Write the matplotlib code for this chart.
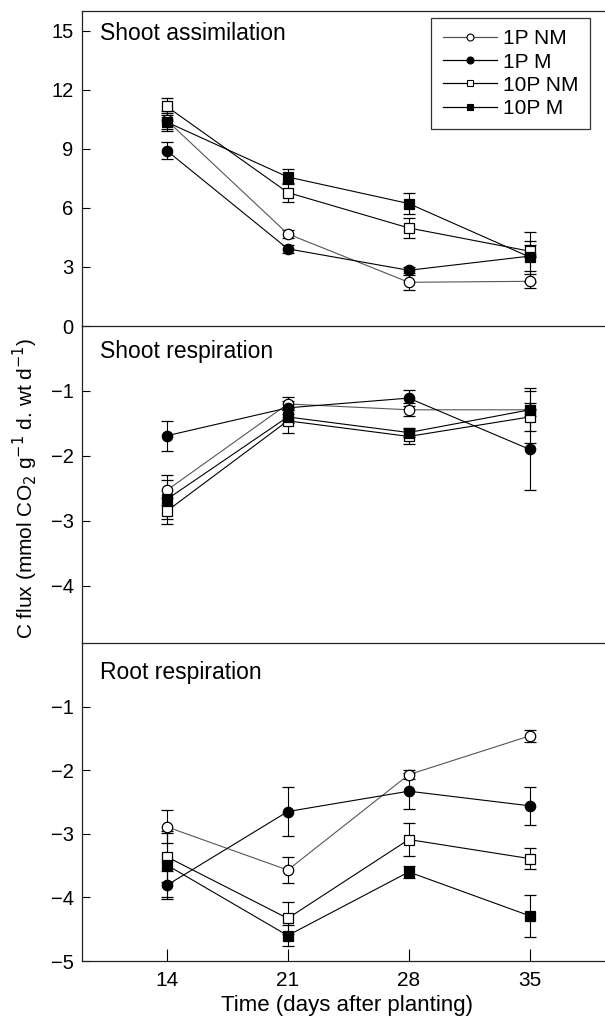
import matplotlib
matplotlib.use("Agg")
import matplotlib.pyplot as plt
from matplotlib.lines import Line2D

# Dias após o plantio
days = [14, 21, 28, 35]
series = ["1P NM", "1P M", "10P NM", "10P M"]

# Shoot assimilation (média e erro)
assim_mean = {
    "1P NM": [10.45, 4.68, 2.22, 2.27],
    "1P M": [8.91, 3.92, 2.83, 3.55],
    "10P NM": [11.15, 6.78, 4.98, 3.8],
    "10P M": [10.36, 7.57, 6.22, 3.5],
}
assim_err = {
    "1P NM": [0.45, 0.2, 0.38, 0.35],
    "1P M": [0.45, 0.2, 0.15, 0.75],
    "10P NM": [0.45, 0.5, 0.52, 0.3],
    "10P M": [0.45, 0.38, 0.52, 1.27],
}

# Shoot respiration
sresp_mean = {
    "1P NM": [-2.53, -1.2, -1.29, -1.29],
    "1P M": [-1.69, -1.26, -1.11, -1.9],
    "10P NM": [-2.85, -1.46, -1.7, -1.4],
    "10P M": [-2.67, -1.4, -1.64, -1.29],
}
sresp_err = {
    "1P NM": [0.23, 0.1, 0.1, 0.1],
    "1P M": [0.23, 0.1, 0.12, 0.62],
    "10P NM": [0.2, 0.19, 0.12, 0.4],
    "10P M": [0.3, 0.1, 0.07, 0.33],
}

# Root respiration
rresp_mean = {
    "1P NM": [-2.89, -3.57, -2.07, -1.46],
    "1P M": [-3.81, -2.65, -2.33, -2.56],
    "10P NM": [-3.36, -4.33, -3.09, -3.39],
    "10P M": [-3.49, -4.6, -3.6, -4.29],
}
rresp_err = {
    "1P NM": [0.26, 0.21, 0.07, 0.09],
    "1P M": [0.22, 0.38, 0.28, 0.3],
    "10P NM": [0.4, 0.25, 0.26, 0.17],
    "10P M": [0.5, 0.16, 0.09, 0.33],
}

panel_titles = ["Shoot assimilation", "Shoot respiration", "Root respiration"]

# estilo de cada série: marcador, preenchimento, cor da linha
styles = {
    "1P NM": ("o", "white", "#555555"),
    "1P M": ("o", "black", "black"),
    "10P NM": ("s", "white", "black"),
    "10P M": ("s", "black", "black"),
}


def draw_panel(ax, means, errs):
    for name in series:
        marker, face, lcolor = styles[name]
        ax.errorbar(days, means[name], yerr=errs[name], marker=marker,
                    markersize=7.5 if marker == "o" else 7,
                    markerfacecolor=face, markeredgecolor="black",
                    markeredgewidth=0.9, color=lcolor, linewidth=0.8,
                    ecolor="black", elinewidth=0.8, capsize=4.5,
                    capthick=0.8)


def main():
    plt.rcParams["font.family"] = ["Liberation Sans", "DejaVu Sans"]
    plt.rcParams["font.size"] = 14

    fig = plt.figure(figsize=(6.05, 10.22), dpi=100)
    left = 82 / 605
    width = 1 - left + 0.01
    ax1 = fig.add_axes([left, 1 - 326 / 1022, width, 315 / 1022])
    ax2 = fig.add_axes([left, 1 - 643 / 1022, width, 317 / 1022])
    ax3 = fig.add_axes([left, 1 - 961 / 1022, width, 318 / 1022])

    draw_panel(ax1, assim_mean, assim_err)
    draw_panel(ax2, sresp_mean, sresp_err)
    draw_panel(ax3, rresp_mean, rresp_err)

    ax1.set_ylim(0, 16)
    ax1.set_yticks([0, 3, 6, 9, 12, 15])
    ax2.set_ylim(-4.88, 0)
    ax2.set_yticks([-1, -2, -3, -4])
    ax3.set_ylim(-5, 0)
    ax3.set_yticks([-1, -2, -3, -4, -5])

    for ax, title, ty in zip([ax1, ax2, ax3], panel_titles, [0.927, 0.918, 0.906]):
        ax.patch.set_visible(False)
        ax.set_xlim(9.1, 39.7)
        ax.set_xticks(days)
        ax.spines["right"].set_visible(False)
        for sp in ax.spines.values():
            sp.set_linewidth(0.9)
            sp.set_color("#222222")
        ax.tick_params(axis="y", direction="in", length=6, width=0.8, labelsize=14.5, pad=6)
        ax.tick_params(axis="x", direction="in", length=9, width=0.8, labelsize=15, pad=7)
        ax.text(0.034, ty, title, transform=ax.transAxes, va="center", ha="left", fontsize=16.5)

    ax1.tick_params(axis="x", bottom=False, labelbottom=False)
    ax2.tick_params(axis="x", bottom=False, labelbottom=False)
    ax2.spines["top"].set_visible(False)
    ax3.spines["top"].set_visible(False)

    ax3.set_xlabel("Time (days after planting)", fontsize=16, labelpad=4)

    fig.text(25 / 605, 1 - 488 / 1022,
             "C flux (mmol CO$_2$ g$^{-1}$ d. wt d$^{-1}$)",
             rotation=90, ha="center", va="center", fontsize=15)

    # legenda sem barras de erro
    handles = []
    for name in series:
        marker, face, lcolor = styles[name]
        handles.append(Line2D([], [], marker=marker, markersize=5,
                              markerfacecolor=face, markeredgecolor="black",
                              markeredgewidth=0.8, color=lcolor, linewidth=0.9))
    leg = ax1.legend(handles, series, loc="upper right",
                     bbox_to_anchor=(590 / 605, 1 - 18 / 1022),
                     bbox_transform=fig.transFigure, frameon=True, fancybox=False,
                     edgecolor="black", handlelength=2.6, borderpad=0.55,
                     labelspacing=0.2, handletextpad=0.3, borderaxespad=0,
                     fontsize=15)
    leg.get_frame().set_linewidth(0.9)

    plt.savefig("out.png", dpi=100)


if __name__ == "__main__":
    main()
